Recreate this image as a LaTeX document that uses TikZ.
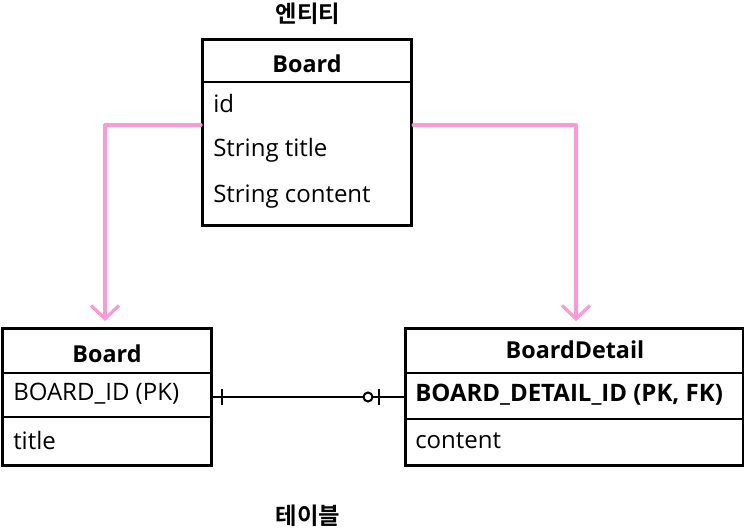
\documentclass[tikz,border=0pt]{standalone}
\usepackage{fontspec}
\setmainfont{Open Sans}[BoldFont={* Bold}]
\newfontfamily\kr{Noto Sans CJK KR}[BoldFont={* Bold}]
\usetikzlibrary{arrows.meta}
\definecolor{pinkline}{HTML}{FF99D6}
\tikzset{
  box/.style={draw=black, line width=2.4pt, anchor=north west, inner sep=0pt},
  sep/.style={draw=black, line width=1.6pt},
  fld/.style={anchor=west, inner sep=0pt, font=\fontsize{18}{21}\selectfont},
  hdr/.style={inner sep=0pt, font=\fontsize{17.5}{21}\selectfont\bfseries},
  flow/.style={draw=pinkline, line width=2.4pt, line cap=round, line join=round,
    -{Straight Barb[length=10pt,width=21pt,line width=2.4pt]}},
  rel/.style={draw=black, line width=1.5pt},
  ttl/.style={inner sep=0pt, font=\kr\bfseries\fontsize{17.5}{21}\selectfont}
}
\begin{document}
\begin{tikzpicture}[x=0.75pt,y=-0.75pt]
\useasboundingbox (0,0) rectangle (744,528);
% entity
\node[box, minimum width=209*0.75pt, minimum height=186*0.75pt] (ent) at (201,38) {};
\draw[sep] (201,82) -- (410,82);
\node[hdr] (entT) at (307,64) {Board};
\node[fld] (e1) at (213,104) {id};
\node[fld] (e2) at (213,150) {String title};
\node[fld] (e3) at (213,197) {String content};
\node[ttl] (lab1) at (308,14) {엔티티};
% table Board
\node[box, minimum width=209*0.75pt, minimum height=137*0.75pt] (tb) at (1,327) {};
\draw[sep] (1,373) -- (210,373);
\draw[sep] (1,417) -- (210,417);
\node[hdr] (tbT) at (107,354) {Board};
\node[fld] (t1) at (13,394) {BOARD\_ID (PK)};
\node[fld] (t2) at (13,440) {title};
% table BoardDetail
\node[box, minimum width=338*0.75pt, minimum height=137*0.75pt] (td) at (404,327) {};
\draw[sep] (404,373) -- (742,373);
\draw[sep] (404,419) -- (742,419);
\node[hdr] (tdT) at (575,350) {BoardDetail};
\node[hdr, anchor=west, font=\fontsize{18}{21}\selectfont\bfseries] (d1) at (415,395) {BOARD\_DETAIL\_ID (PK, FK)};
\node[fld] (d2) at (415,441) {content};
\node[ttl] (lab2) at (308,516) {테이블};
% pink flows
\coordinate (lA) at (105,321);
\coordinate (rA) at (576,321);
\draw[flow] (ent.west |- 0,125) -| (lA);
\draw[flow] (ent.east |- 0,125) -| (rA);
% relation
\coordinate (rs) at (210,397);
\coordinate (re) at (404,397);
\draw[rel] (rs) -- (re);
\draw[rel] (222,389) -- (222,405);
\draw[rel] (379,389) -- (379,405);
\draw[rel, fill=white] (368,397) circle (4.5);
\end{tikzpicture}
\end{document}
